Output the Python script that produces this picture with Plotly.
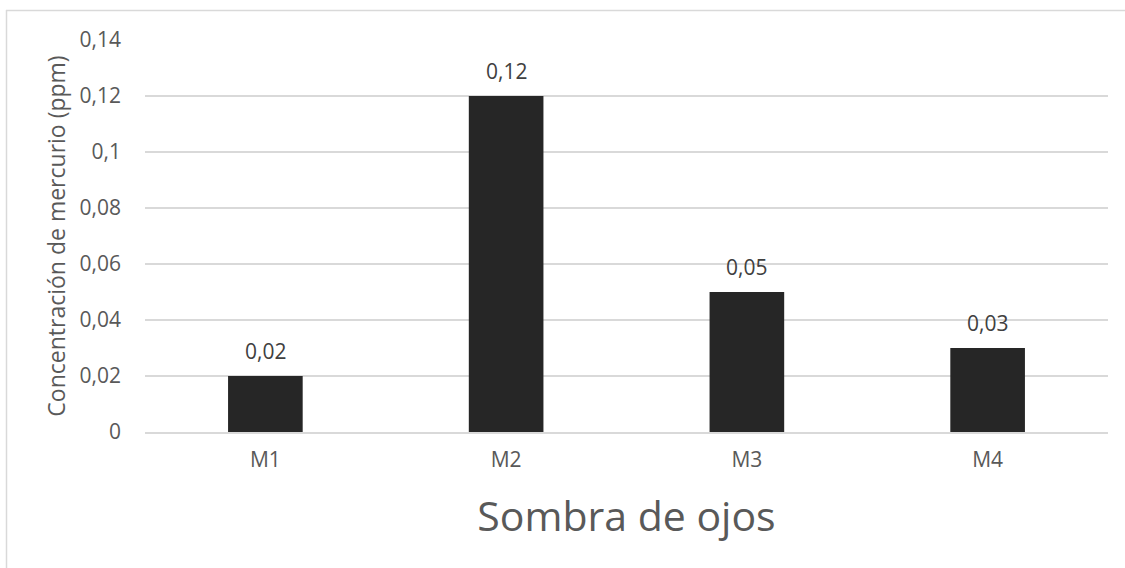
import plotly.graph_objects as go

# Mercury concentration per eyeshadow sample
muestras = ["M1", "M2", "M3", "M4"]
mercurio_ppm = [0.02, 0.12, 0.05, 0.03]
etiquetas = ["0,02", "0,12", "0,05", "0,03"]

W, H = 1125, 568
L, R, T, B = 145, 17, 40, 136
FONT = "Open Sans"
GRIS = "#595959"

fig = go.Figure(
    go.Bar(
        x=muestras,
        y=mercurio_ppm,
        width=0.31,
        marker=dict(color="#262626", line=dict(width=0)),
        hoverinfo="x+y",
    )
)

# value labels above each bar
for m, v, t in zip(muestras, mercurio_ppm, etiquetas):
    fig.add_annotation(
        x=m, y=v, text=t, showarrow=False, yanchor="bottom", yshift=9,
        font=dict(family=FONT, size=21, color="#404040"),
    )

# chart-area border (top and left edges)
pw, ph = W - L - R, H - T - B
def px_x(p): return (p - L) / pw
def px_y(p): return (H - B - p) / ph
border = dict(color="#d9d9d9", width=1.5)
fig.add_shape(type="line", xref="paper", yref="paper",
              x0=px_x(6), x1=px_x(1130), y0=px_y(10.5), y1=px_y(10.5), line=border)
fig.add_shape(type="line", xref="paper", yref="paper",
              x0=px_x(6.5), x1=px_x(6.5), y0=px_y(10), y1=px_y(575), line=border)

fig.update_layout(
    width=W, height=H,
    margin=dict(l=L, r=R, t=T, b=B),
    paper_bgcolor="white", plot_bgcolor="white",
    separators=",.",
    showlegend=False,
    font=dict(family=FONT, color=GRIS),
    xaxis=dict(
        showgrid=False, showline=True, linecolor="#d9d9d9", linewidth=1.5,
        ticks="", tickfont=dict(size=21, color=GRIS), ticklabelstandoff=8,
        title=dict(text="Sombra de ojos", font=dict(size=41, color=GRIS), standoff=30),
    ),
    yaxis=dict(
        range=[0, 0.14], dtick=0.02, showgrid=True, gridcolor="#d9d9d9", gridwidth=1.5,
        zeroline=False, showline=False, ticks="",
        tickfont=dict(size=21, color=GRIS), ticklabelstandoff=23,
        title=dict(text="Concentración de mercurio (ppm)", font=dict(size=23, color=GRIS), standoff=7),
    ),
)

fig.write_html("out.html")
